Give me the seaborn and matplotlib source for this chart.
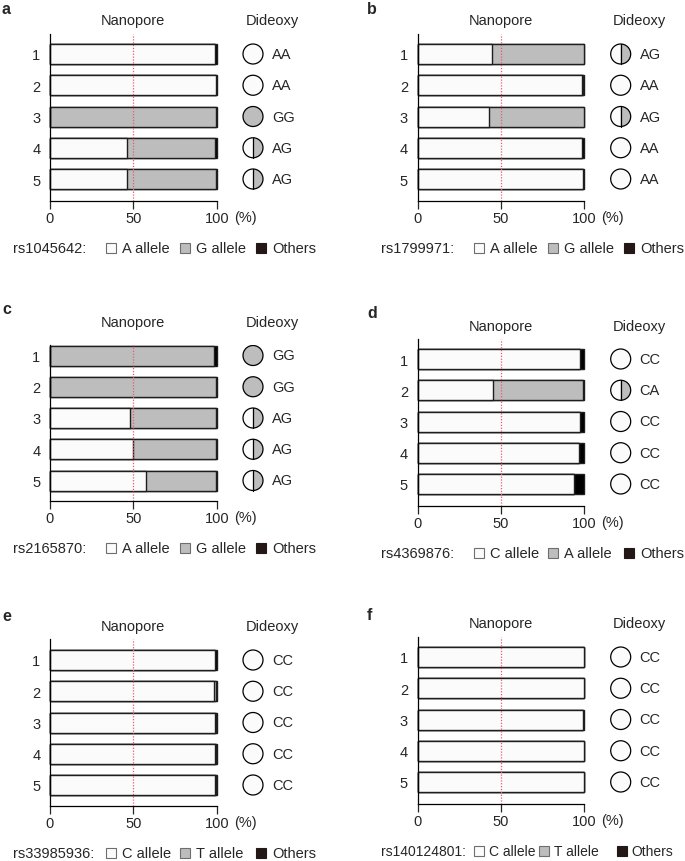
import numpy as np
import pandas as pd
import seaborn as sns
import matplotlib.pyplot as plt
from matplotlib.patches import Circle, Wedge, Rectangle

sns.set_style("ticks")
plt.rcParams['font.family'] = ['Liberation Sans', 'DejaVu Sans']
plt.rcParams['font.size'] = 10.5

samples = ['1', '2', '3', '4', '5']

# rs1045642
a_ref = [98.8, 99.4, 0.0, 46.0, 46.2]
a_alt = [0.0, 0.0, 99.7, 53.0, 53.5]
a_oth = [1.2, 0.6, 0.3, 1.0, 0.3]
a_geno = ['AA', 'AA', 'GG', 'AG', 'AG']

# rs1799971
b_ref = [44.4, 98.8, 43.0, 98.4, 99.0]
b_alt = [55.4, 0.2, 56.8, 0.2, 0.2]
b_oth = [0.2, 1.0, 0.2, 1.4, 0.8]
b_geno = ['AG', 'AA', 'AG', 'AA', 'AA']

# rs2165870
c_ref = [0.0, 0.0, 48.0, 49.6, 57.6]
c_alt = [98.5, 99.5, 51.4, 50.0, 42.0]
c_oth = [1.5, 0.5, 0.6, 0.4, 0.4]
c_geno = ['GG', 'GG', 'AG', 'AG', 'AG']

# rs4369876
d_ref = [97.4, 45.4, 97.4, 96.6, 93.8]
d_alt = [0.0, 53.6, 0.0, 0.0, 0.0]
d_oth = [2.6, 1.0, 2.6, 3.4, 6.2]
d_geno = ['CC', 'CA', 'CC', 'CC', 'CC']

# rs33985936
e_ref = [98.8, 98.6, 99.2, 99.0, 99.0]
e_alt = [0.4, 0.8, 0.2, 0.3, 0.3]
e_oth = [0.8, 0.6, 0.6, 0.7, 0.7]
e_geno = ['CC', 'CC', 'CC', 'CC', 'CC']

# rs140124801
f_ref = [99.5, 99.6, 99.2, 99.6, 99.6]
f_alt = [0.2, 0.2, 0.2, 0.2, 0.2]
f_oth = [0.3, 0.2, 0.6, 0.2, 0.2]
f_geno = ['CC', 'CC', 'CC', 'CC', 'CC']

panels = [
    ('a', 'rs1045642', 'A', 'G', a_ref, a_alt, a_oth, a_geno),
    ('b', 'rs1799971', 'A', 'G', b_ref, b_alt, b_oth, b_geno),
    ('c', 'rs2165870', 'A', 'G', c_ref, c_alt, c_oth, c_geno),
    ('d', 'rs4369876', 'C', 'A', d_ref, d_alt, d_oth, d_geno),
    ('e', 'rs33985936', 'C', 'T', e_ref, e_alt, e_oth, e_geno),
    ('f', 'rs140124801', 'C', 'T', f_ref, f_alt, f_oth, f_geno),
]

# pixel layout: axis x0, axis top, first row centre, axis bottom, title y, tag y
layout = {
    'a': (50, 35, 55, 202, 21, 10),
    'b': (417.7, 35, 55, 202, 21, 10),
    'c': (50, 346, 356.5, 502, 323, 310),
    'd': (417.7, 340, 360, 507, 327, 313),
    'e': (50, 640, 661, 807, 627, 617),
    'f': (417.7, 638, 658, 805, 624, 615),
}
# legend box offsets from axis x0, gap from box to its text, font size
legend_boxes = {'f': ((56, 121, 199), 15, 10)}

W, H = 685, 862
AXW = 166.7
SP = 31.25
WHITE = '#fbfbfb'
GRAY = '#bdbdbd'
BLACK = '#000000'
EDGE = '#1e1e1e'

fig = plt.figure(figsize=(W / 100, H / 100), dpi=100)


def fx(x):
    return x / W


def fy(y):
    return 1 - y / H


for tag, snp, al1, al2, ref, alt, oth, geno in panels:
    x0, top, row1, bottom, ty, tagy = layout[tag]
    ax = fig.add_axes([fx(x0), fy(bottom), AXW / W, (bottom - top) / H])

    df = pd.DataFrame({'sample': samples, 'ref': ref, 'alt': alt, 'oth': oth})
    df['ref_alt'] = df['ref'] + df['alt']
    df['total'] = df['ref_alt'] + df['oth']
    for col, colr in [('total', BLACK), ('ref_alt', GRAY), ('ref', WHITE)]:
        sns.barplot(data=df, x=col, y='sample', orient='h', color=colr,
                    saturation=1, width=0.64, edgecolor=EDGE, linewidth=1.0,
                    errorbar=None, ax=ax)
    for p in ax.patches:
        p.set_clip_on(False)

    ylo = 4 + (bottom - row1 - 4 * SP) / SP
    yhi = -(row1 - top) / SP
    ax.set_ylim(ylo, yhi)
    ax.set_xlim(0, 100)
    ax.axvline(50, color='#e0606a', ls=(0, (1, 1.3)), lw=0.9, zorder=5)
    ax.set_xlabel('')
    ax.set_ylabel('')
    ax.set_xticks([0, 50, 100])
    ax.set_xticklabels(['0', '50', '100'])
    ax.tick_params(axis='x', length=5.5, width=0.9, pad=1.5, labelsize=10.5)
    ax.tick_params(axis='y', length=0, pad=7, labelsize=10.5)
    for s in ['top', 'right']:
        ax.spines[s].set_visible(False)
    for s in ['left', 'bottom']:
        ax.spines[s].set_linewidth(0.9)
        ax.spines[s].set_color('black')

    # dideoxy genotype column
    ax2_w = 80
    ax2 = fig.add_axes([fx(x0 + AXW + 10), fy(bottom), ax2_w / W, (bottom - top) / H])
    ax2.set_ylim(ylo, yhi)
    ax2.set_xlim(0, ax2_w / SP)
    ax2.axis('off')
    cx = (203 - AXW - 10) / SP
    r = 10 / SP
    for i, g in enumerate(geno):
        if g[0] == g[1] == al1:
            ax2.add_patch(Circle((cx, i), r, fc=WHITE, ec='black', lw=0.9))
        elif g[0] == g[1] == al2:
            ax2.add_patch(Circle((cx, i), r, fc=GRAY, ec='black', lw=0.9))
        else:
            ax2.add_patch(Wedge((cx, i), r, 90, 270, fc=WHITE, lw=0))
            ax2.add_patch(Wedge((cx, i), r, -90, 90, fc=GRAY, lw=0))
            ax2.add_patch(Circle((cx, i), r, fill=False, ec='black', lw=0.9))
            ax2.plot([cx, cx], [i - r, i + r], color='black', lw=0.9)
        ax2.text((222 - AXW - 10) / SP, i, g, va='center', ha='left', fontsize=10.5)

    # titles and tag
    fig.text(fx(x0 + AXW / 2), fy(ty), 'Nanopore', ha='center', va='center', fontsize=10.5)
    fig.text(fx(x0 + 222), fy(ty), 'Dideoxy', ha='center', va='center', fontsize=10.5)
    fig.text(fx(x0 - 48 if tag in 'ace' else x0 - 50.7), fy(tagy), tag,
             ha='left', va='center', fontsize=11.5, fontweight='bold')
    fig.text(fx(x0 + AXW + 17), fy(bottom + 16), '(%)', ha='left', va='center', fontsize=10.5)

    # legend
    ly = bottom + 47
    boxes, gap, lfs = legend_boxes.get(tag, ((56, 130, 206), 16.5, 10.5))
    fig.text(fx(x0 - 37), fy(ly), snp + ':', ha='left', va='center', fontsize=lfs)
    names = [al1 + ' allele', al2 + ' allele', 'Others']
    fills = [WHITE, GRAY, '#231815']
    edges = ['#6e6e6e', '#6e6e6e', '#231815']
    for bx, name, fc, ec in zip(boxes, names, fills, edges):
        fig.add_artist(Rectangle((fx(x0 + bx), fy(ly + 5)), 10 / W, 10 / H,
                                 transform=fig.transFigure, fc=fc, ec=ec, lw=0.8))
        fig.text(fx(x0 + bx + gap), fy(ly), name, ha='left', va='center', fontsize=lfs)

fig.savefig('out.png', dpi=100)
